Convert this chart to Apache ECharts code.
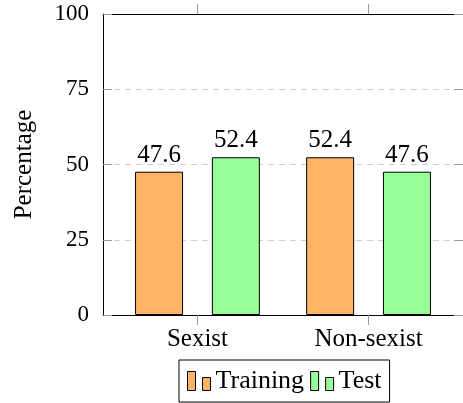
<!DOCTYPE html>
<html>
<head>
<meta charset="utf-8">
<script src="https://cdn.jsdelivr.net/npm/echarts@6/dist/echarts.min.js"></script>
<style>
html,body{margin:0;padding:0;background:#fff;}
#chart{width:463px;height:403px;}
</style>
</head>
<body>
<div id="chart"></div>
<script>
const categories = ['Sexist', 'Non-sexist'];
const trainingValues = [47.6, 52.4];
const testValues = [52.4, 47.6];
const yTicks = [0, 25, 50, 75, 100];
const seriesNames = ['Training', 'Test'];

const FONT = '"Liberation Serif", "Times New Roman", serif';
const chart = echarts.init(document.getElementById('chart'), null, {renderer: 'canvas'});

const toPoints = vals => vals.map((v, i) => [i, v]);
const xMin = -0.552, xMax = categories.length - 1 + 0.552;
const legendIcon = 'path://M0,0H8V19H0Z M15,6H23V19H15Z';

const labelStyle = {
  show: true, position: 'top', distance: 4,
  color: '#000', fontFamily: FONT, fontSize: 25,
  formatter: p => p.value[1].toFixed(1)
};

chart.setOption({
  animation: false,
  backgroundColor: '#fff',
  grid: {left: 103, top: 14, width: 364, height: 301, containLabel: false},
  legend: {
    data: seriesNames.map(n => ({name: n, icon: legendIcon})),
    left: 179, top: 360,
    itemWidth: 23, itemHeight: 19, itemGap: 6,
    padding: [8, 8, 8, 8],
    borderColor: '#000', borderWidth: 1, borderRadius: 0,
    textStyle: {fontFamily: FONT, fontSize: 26, color: '#000', padding: [0, 0, 0, 0]},
    itemStyle: {borderColor: '#000', borderWidth: 1}
  },
  xAxis: [
    {
      type: 'value', position: 'bottom', min: xMin, max: xMax,
      axisLine: {show: true, onZero: false, lineStyle: {color: '#000', width: 1}},
      axisTick: {show: true, customValues: categories.map((c, i) => i), length: 10, inside: false,
                 lineStyle: {color: '#999', width: 1}},
      axisLabel: {show: true, customValues: categories.map((c, i) => i),
                  formatter: v => categories[Math.round(v)] || '',
                  color: '#000', fontFamily: FONT, fontSize: 25, margin: 12},
      splitLine: {show: false}
    },
    {
      type: 'value', position: 'top', min: xMin, max: xMax,
      axisLine: {show: true, onZero: false, lineStyle: {color: '#000', width: 1}},
      axisTick: {show: true, customValues: categories.map((c, i) => i), length: 10, inside: false,
                 lineStyle: {color: '#999', width: 1}},
      axisLabel: {show: false},
      splitLine: {show: false}
    }
  ],
  yAxis: [
    {
      type: 'value', position: 'left', min: yTicks[0], max: yTicks[yTicks.length - 1], interval: 25,
      name: 'Percentage', nameLocation: 'middle', nameGap: 66, nameRotate: 90,
      nameTextStyle: {fontFamily: FONT, fontSize: 25, color: '#000'},
      axisLine: {show: true, onZero: false, lineStyle: {color: '#000', width: 1}},
      axisTick: {show: true, inside: true, length: 9, lineStyle: {color: '#999', width: 1}},
      axisLabel: {color: '#000', fontFamily: FONT, fontSize: 23, margin: 14},
      splitLine: {show: true, lineStyle: {color: '#d0d0d0', width: 1, type: [6, 5]}}
    },
    {
      type: 'value', position: 'right', min: yTicks[0], max: yTicks[yTicks.length - 1], interval: 25,
      axisLine: {show: true, onZero: false, lineStyle: {color: '#000', width: 1}},
      axisTick: {show: true, inside: true, length: 9, lineStyle: {color: '#999', width: 1}},
      axisLabel: {show: false},
      splitLine: {show: false}
    }
  ],
  series: [
    {
      name: seriesNames[0], type: 'bar', xAxisIndex: 0, yAxisIndex: 0,
      data: toPoints(trainingValues), barWidth: 48, barGap: '60%',
      itemStyle: {color: '#FFB366', borderColor: '#000', borderWidth: 1},
      label: labelStyle
    },
    {
      name: seriesNames[1], type: 'bar', xAxisIndex: 0, yAxisIndex: 0,
      data: toPoints(testValues), barWidth: 48, barGap: '60%',
      itemStyle: {color: '#99FF99', borderColor: '#000', borderWidth: 1},
      label: labelStyle
    }
  ]
});
</script>
</body>
</html>
